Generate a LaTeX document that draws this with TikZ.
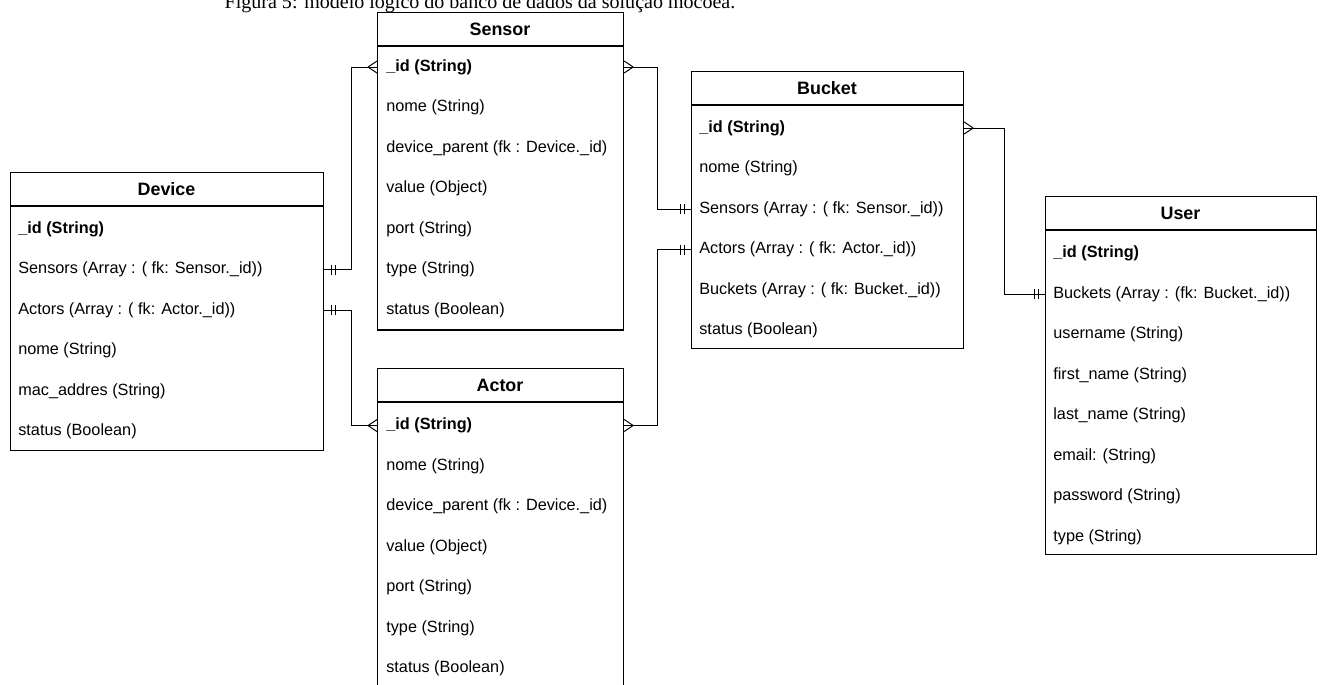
\documentclass[tikz,border=0pt]{standalone}
\usepackage{fontspec}
\setmainfont{Liberation Serif}
\setsansfont{Liberation Sans}
\begin{document}
\begin{tikzpicture}[x=0.02cm,y=-0.02cm,
  entity/.style={draw,line width=0.7pt,anchor=north west,inner sep=0pt},
  title/.style={font=\sffamily\bfseries\fontsize{10.2}{12}\selectfont},
  field/.style={anchor=west,inner sep=0pt,font=\sffamily\fontsize{9.25}{11}\selectfont},
  conn/.style={line width=0.55pt},
  manyend/.pic={\draw[conn] (-9,0) -- (0,-6) (-9,0) -- (0,6);},
  oneend/.pic={\draw[conn] (-7,-5) -- (-7,5) (-11,-5) -- (-11,5);}]
\useasboundingbox (0,0) rectangle (1323,684);

\node[font=\fontsize{11.4}{13}\selectfont,anchor=base] (caption) at (480,8) {Figura 5: modelo lógico do banco de dados da solução mocoea.};

% Device
\node[entity,minimum width=6.26cm,minimum height=5.56cm] (device) at (10,172) {};
\draw[line width=0.7pt] (10,206) -- (323,206);
\node[title] (device-title) at (166.5,189) {Device};
\foreach \txt [count=\i from 0] in {{\bfseries\_id (String)},Sensors (Array : ( fk: Sensor.\_id)),Actors (Array : ( fk: Actor.\_id)),nome (String),mac\_addres (String),status (Boolean)}
  \node[field] (device-\i) at (18,229+40.5*\i) {\txt};

% Sensor
\node[entity,minimum width=4.92cm,minimum height=6.35cm] (sensor) at (377,12) {};
\draw[line width=0.7pt] (377,46) -- (623,46);
\node[title] (sensor-title) at (500,29) {Sensor};
\foreach \txt [count=\i from 0] in {{\bfseries\_id (String)},nome (String),device\_parent (fk : Device.\_id),value (Object),port (String),type (String),status (Boolean)}
  \node[field] (sensor-\i) at (386,67+40.5*\i) {\txt};

% Actor
\node[entity,minimum width=4.92cm,minimum height=6.35cm] (actor) at (377,368) {};
\draw[line width=0.7pt] (377,402) -- (623,402);
\node[title] (actor-title) at (500,385) {Actor};
\foreach \txt [count=\i from 0] in {{\bfseries\_id (String)},nome (String),device\_parent (fk : Device.\_id),value (Object),port (String),type (String),status (Boolean)}
  \node[field] (actor-\i) at (386,425.5+40.5*\i) {\txt};

% Bucket
\node[entity,minimum width=5.44cm,minimum height=5.54cm] (bucket) at (691,71) {};
\draw[line width=0.7pt] (691,105) -- (963,105);
\node[title] (bucket-title) at (827,88) {Bucket};
\foreach \txt [count=\i from 0] in {{\bfseries\_id (String)},nome (String),Sensors (Array : ( fk: Sensor.\_id)),Actors (Array : ( fk: Actor.\_id)),Buckets (Array : ( fk: Bucket.\_id)),status (Boolean)}
  \node[field] (bucket-\i) at (699,128+40.5*\i) {\txt};

% User
\node[entity,minimum width=5.42cm,minimum height=7.16cm] (user) at (1045,196) {};
\draw[line width=0.7pt] (1045,230) -- (1316,230);
\node[title] (user-title) at (1180.5,213) {User};
\foreach \txt [count=\i from 0] in {{\bfseries\_id (String)},Buckets (Array : (fk: Bucket.\_id)),username (String),first\_name (String),last\_name (String),email: (String),password (String),type (String)}
  \node[field] (user-\i) at (1053,253.5+40.5*\i) {\txt};

% relations
\draw[conn] (device-1 -| device.east) -- ++(27,0) |- (sensor-0 -| sensor.west);
\pic at (sensor-0 -| sensor.west) {manyend};
\pic[xscale=-1] at (device-1 -| device.east) {oneend};

\draw[conn] (device-2 -| device.east) -- ++(27,0) |- (actor-0 -| actor.west);
\pic at (actor-0 -| actor.west) {manyend};
\pic[xscale=-1] at (device-2 -| device.east) {oneend};

\draw[conn] (sensor-0 -| sensor.east) -- ++(33,0) |- (bucket-2 -| bucket.west);
\pic[xscale=-1] at (sensor-0 -| sensor.east) {manyend};
\pic at (bucket-2 -| bucket.west) {oneend};

\draw[conn] (actor-0 -| actor.east) -- ++(33,0) |- (bucket-3 -| bucket.west);
\pic[xscale=-1] at (actor-0 -| actor.east) {manyend};
\pic at (bucket-3 -| bucket.west) {oneend};

\draw[conn] (bucket-0 -| bucket.east) -- ++(40,0) |- (user-1 -| user.west);
\pic[xscale=-1] at (bucket-0 -| bucket.east) {manyend};
\pic at (user-1 -| user.west) {oneend};

\end{tikzpicture}
\end{document}
